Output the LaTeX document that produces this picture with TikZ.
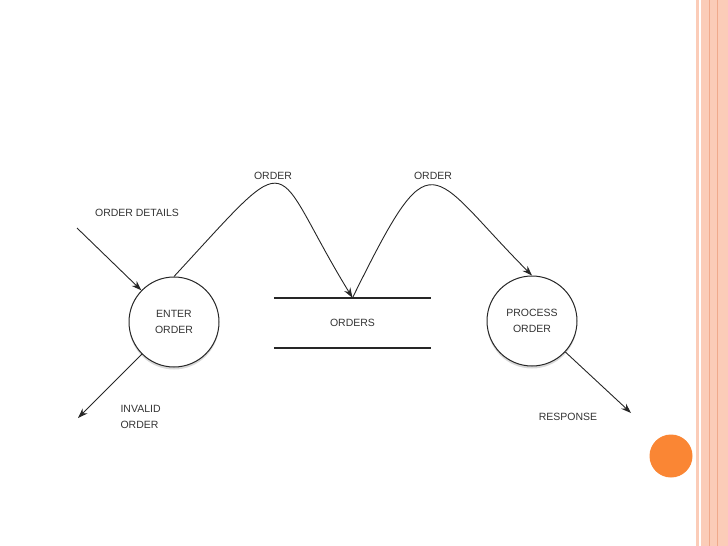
\documentclass[tikz,border=0pt]{standalone}
\usepackage{fontspec}
\setmainfont{Liberation Sans}
\usetikzlibrary{shadows,arrows.meta}
\definecolor{framepink}{RGB}{251,204,184}
\definecolor{framedark}{RGB}{240,170,140}
\definecolor{dotorange}{RGB}{250,134,52}
\tikzset{
    bubble/.style={circle, draw=black!85, line width=1pt, fill=white, minimum size=90pt, align=center,
        drop shadow={opacity=.3, shadow xshift=0pt, shadow yshift=-2.5pt}},
    flow/.style={-{Stealth[length=10pt,width=7pt]}, black!85, line width=.9pt},
    every node/.style={font=\fontsize{10.5}{15.5}\selectfont, text=black!80}
}
\begin{document}
\begin{tikzpicture}[x=1pt,y=-1pt]
    \useasboundingbox (0,0) rectangle (728,546);
    \fill[framepink] (696,0) rectangle (698.5,546);
    \fill[framepink] (701,0) rectangle (728,546);
    \draw[framedark] (709.5,0)--(709.5,546);
    \draw[framedark] (717.5,0)--(717.5,546);
    \fill[dotorange] (671,456) circle (21.5pt);
    \node[bubble] (enter) at (174,322) {ENTER\\ORDER};
    \node[bubble] (procorder) at (532,321) {PROCESS\\ORDER};
    \node[minimum width=157pt, minimum height=50pt] (store) at (352.5,323) {ORDERS};
    \draw[black!85, line width=2pt] (store.north west)--(store.north east);
    \draw[black!85, line width=2pt] (store.south west)--(store.south east);
    \coordinate (detailsin) at (77,228);
    \coordinate (invalidout) at (78,418);
    \coordinate (responseout) at (631,413);
    \draw[flow] (detailsin)--(enter);
    \draw[flow] (enter)--(invalidout);
    \draw[flow] (procorder)--(responseout);
    \draw[flow] (enter.north) .. controls (300,140) and (268,160) .. (store.north);
    \draw[flow] (store.north) .. controls (434,133) and (427,170) .. (procorder.north);
    \draw (273,176) node {ORDER};
    \draw (433,176) node {ORDER};
    \draw (137,213) node {ORDER DETAILS};
    \draw (117,417) node[anchor=west, align=left] {INVALID\\ORDER};
    \draw (568,417) node {RESPONSE};
\end{tikzpicture}
\end{document}
